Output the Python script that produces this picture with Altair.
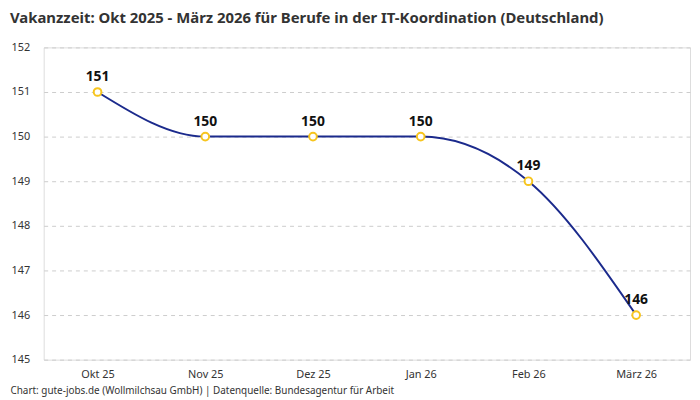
import altair as alt
import pandas as pd

months = ["Okt 25", "Nov 25", "Dez 25", "Jan 26", "Feb 26", "März 26"]
values = [151, 150, 150, 150, 149, 146]

df = pd.DataFrame({"Monat": months, "Tage": values})

FONT = "Noto Sans"

x = alt.X(
    "Monat:O",
    sort=months,
    scale=alt.Scale(type="point", padding=0.5),
    axis=alt.Axis(
        title="Chart: gute-jobs.de (Wollmilchsau GmbH) | Datenquelle: Bundesagentur für Arbeit",
        titleX=-34,
        titleY=26,
        titleAlign="left",
        titleAnchor="start",
        titleBaseline="top",
        titleFontSize=10,
        titleFontWeight="normal",
        titleColor="#333333",
        titleFont=FONT,
        labelAngle=0,
        labelFontSize=11,
        labelColor="#333333",
        labelFont=FONT,
        labelPadding=9,
        domain=False,
        ticks=False,
        grid=False,
    ),
)
y = alt.Y(
    "Tage:Q",
    scale=alt.Scale(domain=[145, 152], nice=False, zero=False),
    axis=alt.Axis(
        title=None,
        values=[145, 146, 147, 148, 149, 150, 151, 152],
        labelFontSize=11,
        labelColor="#333333",
        labelFont=FONT,
        labelPadding=14,
        domain=False,
        ticks=False,
        grid=True,
        gridColor="#cccccc",
        gridDash=[4, 4],
        gridWidth=1,
    ),
)

base = alt.Chart(df).encode(x=x, y=y)

line = base.mark_line(interpolate="monotone", color="#1b2a8c", strokeWidth=2)
points = base.mark_point(
    shape="circle", filled=True, fill="white", stroke="#f7c51e", strokeWidth=2, size=60, opacity=1
)
labels = base.mark_text(dy=-15, fontSize=14, fontWeight="bold", color="#111111", font=FONT).encode(
    text="Tage:Q"
)

chart = (
    alt.layer(line, points, labels)
    .properties(
        width=652,
        height=315,
        autosize=alt.AutoSizeParams(type="none"),
        padding={"left": 36, "top": 38, "right": 2, "bottom": 44},
        title=alt.TitleParams(
            text="Vakanzzeit: Okt 2025 - März 2026 für Berufe in der IT-Koordination (Deutschland)",
            anchor="start",
            frame="group",
            align="left",
            dx=-34,
            offset=16,
            fontSize=15,
            fontWeight="bold",
            color="#333333",
            font=FONT,
        ),
    )
    .configure_view(stroke=None)
    .configure(background="white")
)

chart.save("out.html", embed_options={"renderer": "svg", "actions": False})
